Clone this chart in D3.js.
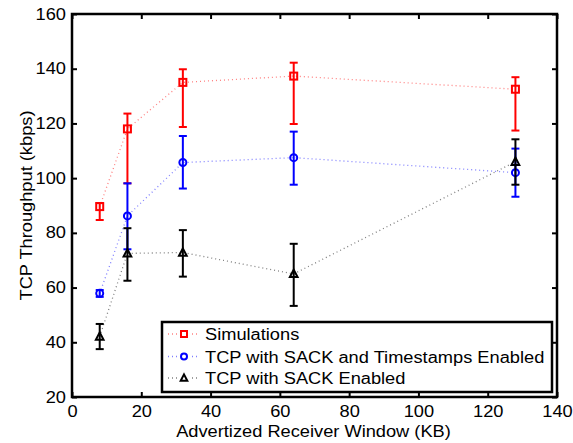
<!DOCTYPE html>
<html><head><meta charset="utf-8">
<script src="https://cdn.jsdelivr.net/npm/d3@7"></script>
<style>
body{margin:0;background:#fff;}
text{font-family:"Liberation Sans",Arial,sans-serif;}
</style></head>
<body><svg id="chart" width="573" height="443"></svg>
<script>
const xValues = [8, 16, 32, 64, 128];
const seriesNames = ["Simulations", "TCP with SACK and Timestamps Enabled", "TCP with SACK Enabled"];
const simMean = [89.6, 118, 135, 137.3, 132.5];
const simLow  = [84.7, 98.1, 118.7, 119.8, 117.4];
const simHigh = [90.9, 123.6, 139.8, 142.2, 136.9];
const tsMean = [57.9, 86.2, 105.7, 107.5, 102];
const tsLow  = [56.6, 74, 96.2, 97.6, 93.2];
const tsHigh = [59.1, 98.1, 115.4, 117, 110.8];
const sackMean = [42.1, 72.5, 72.8, 65, 106];
const sackLow  = [37.5, 62.5, 64, 53.3, 97.6];
const sackHigh = [46.7, 81.7, 81, 76, 114.2];
const xTicks = [0, 20, 40, 60, 80, 100, 120, 140];
const yTicks = [20, 40, 60, 80, 100, 120, 140, 160];
const colors = ["#ff0000", "#0000ff", "#000000"];
const lineColors = ["#ff8080", "#8080ff", "#808080"];
const markers = ["square", "circle", "triangle"];

const svg = d3.select("#chart");
const L = 72, R = 557, T = 14, B = 397;
const x = d3.scaleLinear().domain([0, 140]).range([L, R]);
const y = d3.scaleLinear().domain([20, 160]).range([B, T]);
const STRETCH = 1.14;

const series = [
  {mean: simMean, low: simLow, high: simHigh},
  {mean: tsMean, low: tsLow, high: tsHigh},
  {mean: sackMean, low: sackLow, high: sackHigh}
];

function drawMarker(g, type, cx, cy, color, size) {
  if (type === "square") {
    g.append("rect").attr("x", cx - size/2).attr("y", cy - size/2).attr("width", size).attr("height", size)
      .attr("fill", "none").attr("stroke", color).attr("stroke-width", 2);
  } else if (type === "circle") {
    g.append("circle").attr("cx", cx).attr("cy", cy).attr("r", size/2)
      .attr("fill", "none").attr("stroke", color).attr("stroke-width", 2);
  } else {
    const h = size;
    g.append("path").attr("d", `M${cx},${cy - h*0.6}L${cx + h*0.55},${cy + h*0.45}L${cx - h*0.55},${cy + h*0.45}Z`)
      .attr("fill", "none").attr("stroke", color).attr("stroke-width", 2).attr("stroke-linejoin", "miter");
  }
}

series.forEach((s, i) => {
  const g = svg.append("g");
  const pts = xValues.map((xv, j) => [x(xv), y(s.mean[j])]);
  g.append("path").attr("d", d3.line()(pts)).attr("fill", "none")
    .attr("stroke", lineColors[i]).attr("stroke-width", 1.3).attr("stroke-dasharray", "1,3");
  xValues.forEach((xv, j) => {
    const cx = x(xv);
    g.append("line").attr("x1", cx).attr("x2", cx).attr("y1", y(s.low[j])).attr("y2", y(s.high[j]))
      .attr("stroke", colors[i]).attr("stroke-width", 2);
    [s.low[j], s.high[j]].forEach(v => {
      g.append("line").attr("x1", cx - 4).attr("x2", cx + 4).attr("y1", y(v)).attr("y2", y(v))
        .attr("stroke", colors[i]).attr("stroke-width", 2);
    });
    drawMarker(g, markers[i], cx, y(s.mean[j]), colors[i], 7);
  });
});

const axG = svg.append("g");
const xAxB = d3.axisBottom(x).tickValues(xTicks).tickSizeInner(-5).tickSizeOuter(0).tickPadding(9);
const xAxT = d3.axisTop(x).tickValues(xTicks).tickSizeInner(-5).tickSizeOuter(0).tickFormat("");
const yAxL = d3.axisLeft(y).tickValues(yTicks).tickSizeInner(-5).tickSizeOuter(0).tickPadding(6);
const yAxR = d3.axisRight(y).tickValues(yTicks).tickSizeInner(-5).tickSizeOuter(0).tickFormat("");
[[xAxB, `translate(0,${B})`], [xAxT, `translate(0,${T})`], [yAxL, `translate(${L},0)`], [yAxR, `translate(${R},0)`]]
  .forEach(([ax, tr]) => {
    const gg = axG.append("g").attr("transform", tr).call(ax);
    gg.select(".domain").remove();
    gg.selectAll(".tick line").attr("stroke", "#000").attr("stroke-width", 2);
    gg.selectAll(".tick text").attr("font-size", 16).attr("fill", "#000")
      .attr("font-family", "'Liberation Sans', Arial, sans-serif");
  });
axG.append("rect").attr("x", L).attr("y", T).attr("width", R - L).attr("height", B - T)
  .attr("fill", "none").attr("stroke", "#000").attr("stroke-width", 2.5);

svg.append("text").attr("x", (L + R) / 2 - 1).attr("y", 437).attr("text-anchor", "middle")
  .attr("font-size", 16).text("Advertized Receiver Window (KB)");
svg.append("text").attr("transform", `translate(32,${(T + B) / 2}) rotate(-90)`).attr("text-anchor", "middle")
  .attr("font-size", 16).text("TCP Throughput (kbps)");

const lg = svg.append("g");
lg.append("rect").attr("x", 162).attr("y", 322).attr("width", 390).attr("height", 70)
  .attr("fill", "#fff").attr("stroke", "#000").attr("stroke-width", 2.5);
const legY = [334, 356.5, 378];
seriesNames.forEach((name, i) => {
  lg.append("line").attr("x1", 168).attr("x2", 200).attr("y1", legY[i]).attr("y2", legY[i])
    .attr("stroke", lineColors[i]).attr("stroke-width", 1.3).attr("stroke-dasharray", "1,3");
  const mg = lg.append("g");
  mg.append("rect").attr("x", 178).attr("y", legY[i] - 5).attr("width", 12).attr("height", 10).attr("fill", "#fff");
  drawMarker(mg, markers[i], 184, legY[i], colors[i], 6);
  lg.append("text").attr("x", 205).attr("y", legY[i] + 6).attr("font-size", 16).text(name);
});

// horizontally widen all text to match the reference's wider glyphs
svg.selectAll("text").each(function() {
  const len = this.getComputedTextLength();
  if (len > 0) d3.select(this).attr("textLength", len * STRETCH).attr("lengthAdjust", "spacingAndGlyphs");
});
</script></body></html>
